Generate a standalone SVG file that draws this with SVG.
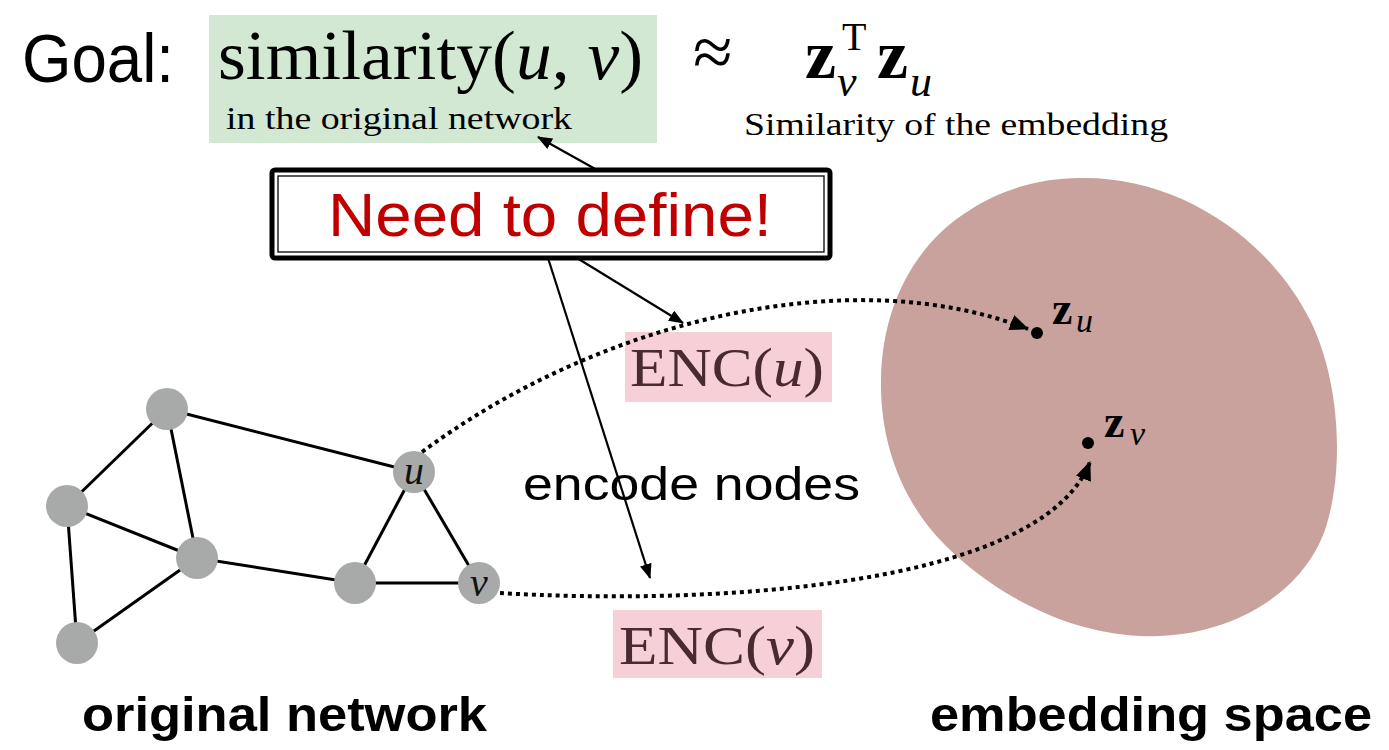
<svg xmlns="http://www.w3.org/2000/svg" width="1389" height="750" viewBox="0 0 1389 750">
<style>
.sans{font-family:"Liberation Sans",Arial,sans-serif}
.serif{font-family:"Liberation Serif","Times New Roman",serif}
.edge{stroke:#000;stroke-width:3;fill:none}
.node{fill:#a8aaa9}
.solid{stroke:#000;stroke-width:2.2;fill:none}
.dotted{stroke:#000;stroke-width:4;stroke-dasharray:4 4;fill:none}
.enc{fill:#f7cfd7}
.enct{font-family:"Liberation Serif","Times New Roman",serif;font-size:54px;fill:#4a2a31}
.lbl{font-family:"Liberation Serif","Times New Roman",serif;font-style:italic;font-size:40px;fill:#111}
</style>
<defs>
<marker id="ah" markerWidth="16" markerHeight="12" refX="14" refY="6" orient="auto" markerUnits="userSpaceOnUse">
<path d="M0,0 L15,6 L0,12 z" fill="#000" stroke="none"/>
</marker>
<marker id="ahd" markerWidth="20" markerHeight="16" refX="18" refY="8" orient="auto" markerUnits="userSpaceOnUse">
<path d="M0,0 L19,8 L0,16 z" fill="#000" stroke="none"/>
</marker>
</defs>
<rect width="1389" height="750" fill="#fff"/>

<g id="embedding-space">
<path d="M1080,178 C1180,176 1270,240 1310,320 C1340,380 1345,470 1325,530 C1300,600 1220,640 1140,636 C1060,632 990,590 945,545 C900,500 880,440 881,380 C882,300 920,240 970,210 C1000,190 1040,178 1080,178 Z" fill="#c9a29d"/>
</g>

<g id="goal">
<text class="sans" x="22" y="82" font-size="69" textLength="152" lengthAdjust="spacingAndGlyphs">Goal:</text>
</g>
<g id="similarity-box">
<rect x="209" y="15" width="448" height="128" fill="#d2e8d3"/>
<text class="serif" x="218" y="79" font-size="70" textLength="425" lengthAdjust="spacingAndGlyphs">similarity(<tspan font-style="italic">u</tspan>, <tspan font-style="italic">v</tspan>)</text>
<text class="serif" x="226" y="129" font-size="32" textLength="346" lengthAdjust="spacingAndGlyphs">in the original network</text>
</g>
<g id="approx">
<text class="serif" x="693" y="76" font-size="72">≈</text>
</g>
<g id="embedding-similarity">
<text class="serif" x="805" y="78" font-size="70" font-weight="bold">z</text>
<text class="serif" x="842" y="50" font-size="40">T</text>
<text class="serif" x="837" y="96" font-size="44" font-style="italic">v</text>
<text class="serif" x="877" y="78" font-size="70" font-weight="bold">z</text>
<text class="serif" x="910" y="96" font-size="44" font-style="italic">u</text>
<text class="serif" x="744" y="135" font-size="31" textLength="424" lengthAdjust="spacingAndGlyphs">Similarity  of the embedding</text>
</g>

<g id="need-to-define">
<rect x="272" y="170" width="558" height="88" rx="3" fill="#fff" stroke="#000" stroke-width="5"/>
<rect x="278" y="176" width="546" height="76" fill="none" stroke="#000" stroke-width="1.3"/>
<text class="sans" x="328" y="236" font-size="62" fill="#c00000" textLength="444" lengthAdjust="spacingAndGlyphs">Need to define!</text>
</g>

<g id="enc-u">
<rect class="enc" x="625" y="332" width="207" height="70"/>
<text class="enct" x="630" y="386" textLength="194" lengthAdjust="spacingAndGlyphs">ENC(<tspan font-style="italic">u</tspan>)</text>
</g>
<g id="enc-v">
<rect class="enc" x="613" y="610" width="209" height="68"/>
<text class="enct" x="619" y="664" textLength="196" lengthAdjust="spacingAndGlyphs">ENC(<tspan font-style="italic">v</tspan>)</text>
</g>

<g id="encode-nodes">
<text class="sans" x="523" y="500" font-size="46" textLength="337" lengthAdjust="spacingAndGlyphs">encode nodes</text>
</g>

<g id="graph-edges">
<line class="edge" x1="167" y1="409" x2="67" y2="506"/>
<line class="edge" x1="167" y1="409" x2="197" y2="558"/>
<line class="edge" x1="167" y1="409" x2="414" y2="472"/>
<line class="edge" x1="67" y1="506" x2="197" y2="558"/>
<line class="edge" x1="67" y1="506" x2="77" y2="643"/>
<line class="edge" x1="197" y1="558" x2="77" y2="643"/>
<line class="edge" x1="197" y1="558" x2="355" y2="583"/>
<line class="edge" x1="355" y1="583" x2="414" y2="472"/>
<line class="edge" x1="355" y1="583" x2="479" y2="583"/>
<line class="edge" x1="414" y1="472" x2="479" y2="583"/>
</g>

<g id="node-a"><circle class="node" cx="167" cy="409" r="21"/></g>
<g id="node-b"><circle class="node" cx="67" cy="506" r="21"/></g>
<g id="node-c"><circle class="node" cx="197" cy="558" r="21"/></g>
<g id="node-d"><circle class="node" cx="77" cy="643" r="21"/></g>
<g id="node-e"><circle class="node" cx="355" cy="583" r="21"/></g>
<g id="node-u"><circle class="node" cx="414" cy="472" r="21"/><text class="lbl" x="414" y="484" text-anchor="middle">u</text></g>
<g id="node-v"><circle class="node" cx="479" cy="583" r="21"/><text class="lbl" x="479" y="596" text-anchor="middle">v</text></g>

<g id="z-u">
<circle cx="1037" cy="333" r="6" fill="#000"/>
<text class="serif" x="1052" y="324" font-size="46" font-weight="bold">z</text>
<text class="serif" x="1076" y="332" font-size="34" font-style="italic">u</text>
</g>
<g id="z-v">
<circle cx="1088" cy="443" r="6" fill="#000"/>
<text class="serif" x="1104" y="437" font-size="46" font-weight="bold">z</text>
<text class="serif" x="1130" y="445" font-size="34" font-style="italic">v</text>
</g>

<g id="connectors">
<line class="solid" x1="597" y1="170" x2="538" y2="137" marker-end="url(#ah)"/>
<line class="solid" x1="577" y1="258" x2="683" y2="323" marker-end="url(#ah)"/>
<line class="solid" x1="548" y1="258" x2="650" y2="578" marker-end="url(#ah)"/>
<path class="dotted" d="M422,452 C600,320 850,260 1028,329" marker-end="url(#ahd)"/>
<path class="dotted" d="M500,593 C700,605 1040,590 1090,462" marker-end="url(#ahd)"/>
</g>

<g id="caption-original">
<text class="sans" x="82" y="731" font-size="48" font-weight="bold" textLength="405" lengthAdjust="spacingAndGlyphs">original network</text>
</g>
<g id="caption-embedding">
<text class="sans" x="930" y="731" font-size="48" font-weight="bold" textLength="442" lengthAdjust="spacingAndGlyphs">embedding space</text>
</g>
</svg>
